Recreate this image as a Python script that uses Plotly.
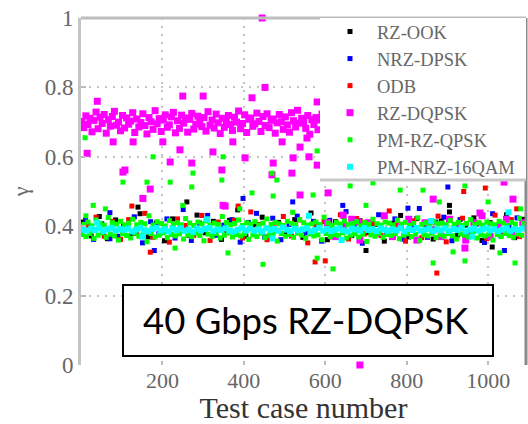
import plotly.graph_objects as go

# ---------------- data ----------------
SERIES_NAMES = ["RZ-OOK", "NRZ-DPSK", "ODB", "RZ-DQPSK", "PM-RZ-QPSK", "PM-NRZ-16QAM"]

# RZ-OOK (black): one sample every 20 test cases starting at 5
RZ_OOK_CORE = [0.412,0.372,0.428,0.364,0.418,0.403,0.379,0.436,0.369,0.409,
               0.358,0.421,0.401,0.374,0.432,0.381,0.414,0.362,0.417,0.447,
               0.371,0.404,0.426,0.366,0.411,0.377,0.419,0.368,0.438,0.402,
               0.361,0.413,0.429,0.373,0.416,0.382,0.405,0.357,0.408,0.431,
               0.369,0.422,0.398,0.363,0.415,0.441,0.375,0.403,0.424,0.359,
               0.410,0.378,0.433,0.367,0.420]
RZ_OOK_EXTRA_X = [260, 700, 905, 140, 1010]
RZ_OOK_EXTRA_Y = [0.47, 0.33, 0.46, 0.455, 0.34]

# NRZ-DPSK (blue): every 20 starting at 11
NRZ_DPSK_CORE = [0.418,0.362,0.407,0.439,0.371,0.401,0.427,0.352,0.413,0.378,
                 0.421,0.366,0.448,0.359,0.409,0.431,0.374,0.403,0.419,0.354,
                 0.411,0.437,0.369,0.423,0.361,0.405,0.429,0.381,0.414,0.357,
                 0.417,0.372,0.442,0.402,0.351,0.408,0.433,0.376,0.421,0.363,
                 0.404,0.451,0.368,0.412,0.426,0.358,0.419,0.379,0.406,0.353,
                 0.436,0.373,0.401,0.424,0.364]
NRZ_DPSK_EXTRA_X = [71, 398, 803, 901, 643, 1040, 520, 180]
NRZ_DPSK_EXTRA_Y = [0.48, 0.452, 0.513, 0.46, 0.33, 0.47, 0.33, 0.335]

# ODB (red): every 20 starting at 17
ODB_CORE = [0.403,0.426,0.371,0.414,0.362,0.419,0.379,0.437,0.368,0.408,
            0.354,0.421,0.402,0.374,0.431,0.359,0.412,0.381,0.417,0.366,
            0.441,0.405,0.361,0.409,0.428,0.372,0.418,0.352,0.401,0.413,
            0.369,0.433,0.363,0.422,0.378,0.407,0.373,0.444,0.404,0.357,
            0.416,0.367,0.411,0.429,0.355,0.402,0.423,0.375,0.409,0.364,
            0.432,0.380,0.419,0.370,0.414]
ODB_EXTRA_X = [686, 993, 600, 874, 575, 125, 386, 170, 940, 1070]
ODB_EXTRA_Y = [0.51, 0.30, 0.265, 0.297, 0.458, 0.458, 0.325, 0.50, 0.45, 0.34]

# RZ-DQPSK (magenta): dense cluster every 5 test cases for 2..592
RZ_DQPSK_CORE = [0.702,0.684,0.718,0.693,0.711,0.672,0.705,0.729,0.681,0.714,
                 0.696,0.722,0.668,0.707,0.688,0.716,0.731,0.691,0.700,0.675,
                 0.719,0.683,0.712,0.694,0.703,0.727,0.670,0.709,0.686,0.699,
                 0.724,0.690,0.666,0.713,0.701,0.679,0.733,0.695,0.710,0.673,
                 0.706,0.721,0.685,0.692,0.715,0.728,0.669,0.704,0.682,0.720,
                 0.697,0.712,0.671,0.708,0.725,0.680,0.694,0.717,0.701,0.687,
                 0.713,0.674,0.730,0.691,0.706,0.683,0.723,0.698,0.667,0.711,
                 0.685,0.703,0.719,0.693,0.676,0.714,0.700,0.732,0.681,0.696,
                 0.721,0.670,0.708,0.712,0.688,0.695,0.726,0.702,0.673,0.716,
                 0.690,0.724,0.684,0.705,0.709,0.668,0.698,0.722,0.701,0.679,
                 0.715,0.692,0.671,0.727,0.704,0.686,0.734,0.697,0.711,0.700,
                 0.682,0.719,0.665,0.707,0.693,0.713,0.678,0.706,0.723]
# RZ-DQPSK after test case 600: every 20 starting at 605
RZ_DQPSK_LATE = [0.41,0.37,0.40,0.42,0.36,0.41,0.38,0.43,0.37,0.40,
                 0.42,0.36,0.41,0.39,0.37,0.42,0.40,0.36,0.41,0.43,
                 0.37,0.40,0.42,0.38,0.41]
RZ_DQPSK_EXTRA_X = [250, 300, 452, 580, 79, 128, 201, 243, 324, 373, 494, 538,
                    219, 272, 403, 472, 521, 580, 108, 346, 170, 152, 354, 538,
                    555, 445, 600, 685, 1039, 1061, 644, 681, 943, 865, 980, 607,
                    349, 469, 103, 518, 40, 420, 15, 560]
RZ_DQPSK_EXTRA_Y = [0.775, 0.775, 0.80, 0.758, 0.643, 0.643, 0.643, 0.62, 0.614, 0.643, 0.643, 0.628,
                    0.585, 0.582, 0.597, 0.582, 0.597, 0.576, 0.562, 0.562, 0.507, 0.48, 0.458, 0.49,
                    0.654, 1.0, 0.79, 0.0, 0.527, 0.478, 0.432, 0.412, 0.337, 0.478, 0.438, 0.496,
                    0.46, 0.548, 0.556, 0.553, 0.76, 0.77, 0.61, 0.60]

# PM-RZ-QPSK (green): upper half every 10 from 7, lower half every 10 from 2
PM_RZ_QPSK_UPPER = [0.405,0.412,0.401,0.418,0.408,0.403,0.425,0.410,0.406,0.414,
                    0.402,0.409,0.420,0.404,0.411,0.407,0.430,0.403,0.413,0.408,
                    0.401,0.416,0.406,0.410,0.404,0.422,0.409,0.402,0.412,0.407,
                    0.415,0.403,0.409,0.405,0.428,0.411,0.404,0.408,0.418,0.402,
                    0.410,0.406,0.413,0.403,0.409,0.421,0.405,0.411,0.407,0.402,
                    0.414,0.408,0.404,0.419,0.410,0.403,0.407,0.412,0.405,0.426,
                    0.409,0.402,0.411,0.406,0.415,0.404,0.408,0.413,0.401,0.410,
                    0.405,0.420,0.407,0.403,0.412,0.409,0.404,0.417,0.406,0.411,
                    0.402,0.408,0.424,0.405,0.410,0.403,0.413,0.407,0.409,0.404,
                    0.416,0.406,0.411,0.402,0.408,0.419,0.405,0.410,0.403,0.412,
                    0.407,0.404,0.414,0.409,0.401,0.411,0.406,0.423,0.408]
PM_RZ_QPSK_LOWER = [0.376,0.370,0.379,0.365,0.374,0.381,0.368,0.377,0.372,0.360,
                    0.378,0.373,0.366,0.380,0.371,0.375,0.355,0.379,0.369,0.374,
                    0.381,0.367,0.376,0.372,0.378,0.363,0.375,0.370,0.380,0.373,
                    0.358,0.377,0.371,0.379,0.366,0.374,0.381,0.369,0.376,0.372,
                    0.378,0.362,0.375,0.370,0.380,0.367,0.373,0.377,0.357,0.379,
                    0.371,0.376,0.368,0.380,0.374,0.365,0.378,0.372,0.375,0.361,
                    0.379,0.370,0.376,0.373,0.381,0.366,0.374,0.378,0.369,0.377,
                    0.356,0.375,0.371,0.380,0.368,0.376,0.373,0.379,0.364,0.374,
                    0.378,0.370,0.377,0.359,0.375,0.372,0.380,0.367,0.376,0.371,
                    0.379,0.373,0.363,0.378,0.374,0.369,0.381,0.366,0.375,0.372,
                    0.377,0.360,0.376,0.370,0.379,0.373,0.368,0.378,0.374]
PM_RZ_QPSK_EXTRA_X = [103, 162, 177, 219, 231, 272, 275, 346, 349, 361, 420, 447, 469, 472,
                      481, 570, 580, 580, 619, 661, 717, 784, 840, 865, 914, 943, 943, 1029,
                      1066, 1000, 60, 30, 700, 880, 250, 390, 520, 1080, 10, 12]
PM_RZ_QPSK_EXTRA_Y = [0.527, 0.527, 0.60, 0.527, 0.337, 0.513, 0.553, 0.533, 0.60, 0.323, 0.496, 0.29, 0.553, 0.487,
                      0.533, 0.49, 0.617, 0.308, 0.277, 0.516, 0.525, 0.504, 0.504, 0.294, 0.326, 0.516, 0.30, 0.323,
                      0.294, 0.47, 0.45, 0.46, 0.46, 0.47, 0.46, 0.45, 0.44, 0.45, 0.655, 0.43]

# PM-NRZ-16QAM (cyan): every 10 starting at 5
PM_NRZ_16QAM_CORE = [0.390,0.387,0.393,0.389,0.394,0.386,0.391,0.395,0.388,0.392,
                     0.389,0.393,0.385,0.390,0.395,0.388,0.386,0.392,0.396,0.387,
                     0.391,0.385,0.393,0.389,0.394,0.387,0.390,0.384,0.393,0.388,
                     0.392,0.395,0.386,0.391,0.389,0.394,0.387,0.385,0.390,0.395,
                     0.388,0.393,0.386,0.391,0.385,0.394,0.389,0.392,0.387,0.396,
                     0.390,0.386,0.393,0.388,0.391,0.394,0.385,0.389,0.395,0.387,
                     0.392,0.386,0.390,0.394,0.388,0.385,0.393,0.391,0.387,0.395,
                     0.389,0.392,0.386,0.394,0.390,0.387,0.391,0.388,0.394,0.385,
                     0.392,0.389,0.395,0.387,0.390,0.393,0.386,0.391,0.388,0.394,
                     0.386,0.392,0.389,0.395,0.385,0.390,0.393,0.387,0.391,0.394,
                     0.388,0.392,0.386,0.390,0.394,0.387,0.391,0.389,0.393]
PM_NRZ_16QAM_EXTRA_X = [40, 150, 310, 470, 560, 640, 860, 960, 1050, 655]
PM_NRZ_16QAM_EXTRA_Y = [0.41, 0.37, 0.42, 0.365, 0.43, 0.36, 0.415, 0.37, 0.44, 0.585]

X_TICKS = [200, 400, 600, 800, 1000]
Y_TICKS = [0, 0.2, 0.4, 0.6, 0.8, 1]
Y_TICK_TEXT = ["0", "0.2", "0.4", "0.6", "0.8", "1"]

# ---------------- figure ----------------
series = [
    (SERIES_NAMES[0], list(range(5, 1090, 20)), RZ_OOK_CORE, RZ_OOK_EXTRA_X, RZ_OOK_EXTRA_Y, "#000000", 5),
    (SERIES_NAMES[1], list(range(11, 1090, 20)), NRZ_DPSK_CORE, NRZ_DPSK_EXTRA_X, NRZ_DPSK_EXTRA_Y, "#0000ff", 5),
    (SERIES_NAMES[2], list(range(17, 1090, 20)), ODB_CORE, ODB_EXTRA_X, ODB_EXTRA_Y, "#ff0000", 5),
    (SERIES_NAMES[3], list(range(2, 597, 5)) + list(range(605, 1090, 20)),
     RZ_DQPSK_CORE + RZ_DQPSK_LATE, RZ_DQPSK_EXTRA_X, RZ_DQPSK_EXTRA_Y, "#ff00ff", 7),
    (SERIES_NAMES[4], list(range(7, 1090, 10)) + list(range(2, 1090, 10)),
     PM_RZ_QPSK_UPPER + PM_RZ_QPSK_LOWER, PM_RZ_QPSK_EXTRA_X, PM_RZ_QPSK_EXTRA_Y, "#00ff00", 5),
    (SERIES_NAMES[5], list(range(5, 1090, 10)), PM_NRZ_16QAM_CORE, PM_NRZ_16QAM_EXTRA_X, PM_NRZ_16QAM_EXTRA_Y, "#00ffff", 6),
]

fig = go.Figure()
for name, cx, cy, ex, ey, color, size in series:
    fig.add_trace(go.Scatter(
        x=cx + ex, y=cy + ey, mode="markers", name=name,
        marker=dict(symbol="square", size=size, color=color, line=dict(width=0)),
        cliponaxis=False,
    ))

L, R, T, B = 81, 2, 18, 59
W, H = 528, 424
pw, ph = W - L - R, H - T - B

def px_x(p):
    return (p - L) / pw

def px_y(p):
    return (H - B - p) / ph

grid_col = "#c4c4c4"
serif = "Liberation Serif, Times New Roman, serif"

fig.update_layout(
    width=W, height=H,
    margin=dict(l=L, r=R, t=T, b=B, autoexpand=False),
    paper_bgcolor="white", plot_bgcolor="white",
    showlegend=True,
    legend=dict(
        x=px_x(323), y=px_y(13), xanchor="left", yanchor="top",
        bgcolor="rgba(0,0,0,0)", borderwidth=0,
        font=dict(family=serif, size=18.5, color="#666"),
        itemwidth=44,
    ),
    xaxis=dict(
        range=[0, 1093], tickvals=X_TICKS, ticktext=[str(v) for v in X_TICKS],
        showgrid=True, gridcolor=grid_col, gridwidth=2, griddash="2px,6px",
        zeroline=False, showline=False,
        ticks="inside", ticklen=4, tickcolor="#bbb", tickwidth=2,
        tickfont=dict(family=serif, size=22, color="#666"),
        title=dict(text="Test case number", font=dict(family=serif, size=30, color="#333"), standoff=6),
        automargin=False,
    ),
    yaxis=dict(
        range=[0, 1], tickvals=Y_TICKS, ticktext=Y_TICK_TEXT,
        showgrid=True, gridcolor=grid_col, gridwidth=2, griddash="2px,6px",
        zeroline=False, showline=True, linecolor="#c4c4c4", linewidth=3,
        ticks="inside", ticklen=5, tickcolor="#bbb", tickwidth=2,
        tickfont=dict(family=serif, size=23, color="#666"),
        title=dict(text="γ", font=dict(family=serif, size=22, color="#666"), standoff=10),
        automargin=False,
    ),
    shapes=[
        dict(type="line", xref="paper", yref="paper", x0=0, x1=1, y0=1, y1=1,
             line=dict(color="#bdbdbd", width=3), layer="above"),
        dict(type="line", xref="paper", yref="paper", x0=1, x1=1, y0=0, y1=1,
             line=dict(color="#8a8a8a", width=3), layer="above"),
        dict(type="rect", xref="paper", yref="paper", x0=px_x(320), x1=1, y0=px_y(180), y1=1,
             fillcolor="white", line=dict(width=0), layer="above"),
        dict(type="line", xref="paper", yref="paper", x0=px_x(320), x1=1, y0=px_y(180), y1=px_y(180),
             line=dict(color="#c8c8c8", width=3), layer="above"),
        dict(type="rect", xref="paper", yref="paper", x0=px_x(123), x1=px_x(493), y0=px_y(356), y1=px_y(285),
             fillcolor="white", line=dict(color="black", width=2), layer="above"),
    ],
    annotations=[
        dict(text="40 Gbps RZ-DQPSK", xref="paper", yref="paper", x=px_x(306), y=px_y(320),
             xanchor="center", yanchor="middle", showarrow=False,
             font=dict(family="Lato, Noto Sans, sans-serif", size=36.5, color="black")),
    ],
)

fig.write_html("out.html")
